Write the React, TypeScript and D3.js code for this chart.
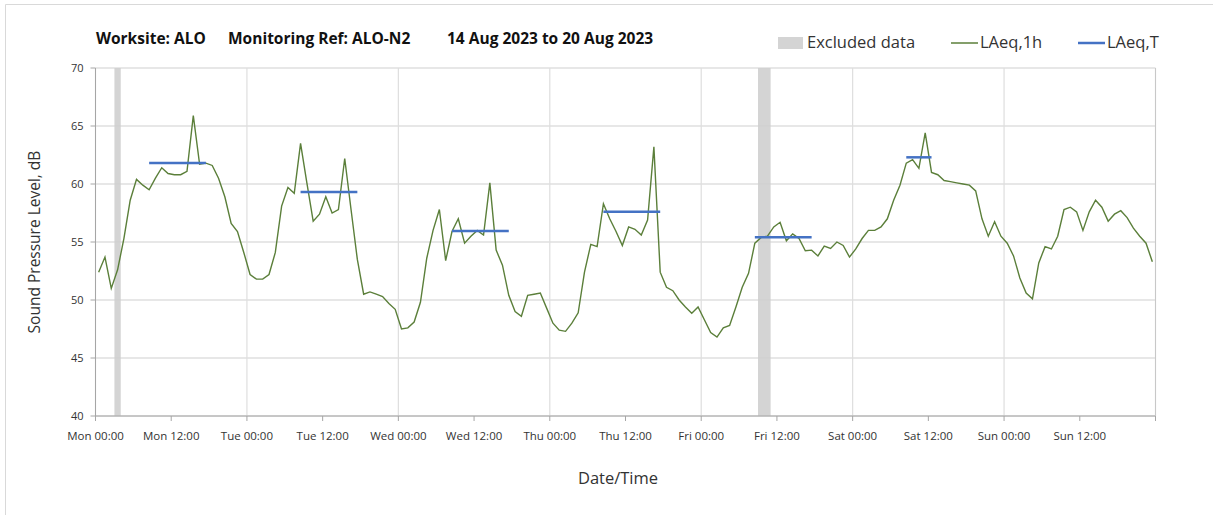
import React from "react";
import * as d3 from "d3";

const titleParts = ["Worksite: ALO", "Monitoring Ref: ALO-N2", "14 Aug 2023  to 20 Aug 2023"];
const dayLabels = ["Mon", "Tue", "Wed", "Thu", "Fri", "Sat", "Sun"];
const yTicks = [40, 45, 50, 55, 60, 65, 70];

// Hourly LAeq,1h values, hour 0 = Mon 00:00
const laeq1h = [
  52.4, 53.7, 51.0, 52.6, 55.3, 58.6, 60.4, 59.9, 59.5, 60.5, 61.4, 60.9, 60.8, 60.8, 61.1, 65.9, 61.7, 61.8, 61.6, 60.5, 58.9, 56.6, 55.9, 54.1,
  52.2, 51.8, 51.8, 52.2, 54.1, 58.1, 59.7, 59.2, 63.5, 60.1, 56.8, 57.4, 58.9, 57.5, 57.8, 62.2, 57.8, 53.5, 50.5, 50.7, 50.5, 50.3, 49.7, 49.2,
  47.5, 47.6, 48.1, 49.8, 53.6, 56.0, 57.8, 53.4, 55.9, 57.0, 54.9, 55.5, 56.0, 55.6, 60.1, 54.3, 53.0, 50.4, 49.0, 48.6, 50.4, 50.5, 50.6, 49.3,
  48.0, 47.4, 47.3, 48.0, 48.9, 52.4, 54.8, 54.6, 58.3, 57.0, 55.9, 54.7, 56.3, 56.1, 55.6, 56.9, 63.2, 52.4, 51.1, 50.8, 50.0, 49.4, 48.85, 49.4,
  48.3, 47.2, 46.8, 47.6, 47.8, 49.4, 51.1, 52.3, 54.9, 55.4, 55.5, 56.3, 56.7, 55.1, 55.7, 55.3, 54.25, 54.3, 53.8, 54.65, 54.45, 55.0, 54.7, 53.7,
  54.4, 55.3, 56.0, 56.0, 56.3, 57.0, 58.6, 59.9, 61.8, 62.1, 61.35, 64.4, 61.0, 60.8, 60.3, 60.2, 60.1, 60.0, 59.9, 59.4, 57.0, 55.5, 56.75, 55.5,
  54.9, 53.8, 51.9, 50.6, 50.1, 53.2, 54.6, 54.4, 55.5, 57.8, 58.0, 57.6, 56.0, 57.6, 58.6, 58.0, 56.8, 57.4, 57.7, 57.1, 56.2, 55.5, 54.9, 53.3,
];

// LAeq,T periods: start hour, end hour, value
const laeqTStart = [8.5, 32.5, 56.5, 80.5, 104.5, 128.5];
const laeqTEnd = [17.5, 41.5, 65.5, 89.5, 113.5, 132.5];
const laeqTValue = [61.8, 59.3, 55.95, 57.6, 55.4, 62.3];

// Excluded data periods (hours)
const excludedStart = [3, 105];
const excludedEnd = [4, 107];

const W = 1213;
const H = 515;
const left = 95.5;
const right = 1155.5;
const top = 68;
const bottom = 416;
const font = "'Open Sans', Lato, sans-serif";

export default function App() {
  const x = d3.scaleLinear().domain([0, 168]).range([left, right]);
  const y = d3.scaleLinear().domain([40, 70]).range([bottom, top]);
  const line = d3
    .line<number>()
    .x((_, i) => x(i + 0.5))
    .y((d) => y(d));
  const ticks12 = d3.range(0, 169, 12);
  const dayTicks = d3.range(0, 169, 24);

  return (
    <svg
      width={W}
      height={H}
      style={{ position: "absolute", left: 0, top: 0, background: "#fff" }}
      fontFamily={font}
    >
      <rect x={0} y={0} width={W} height={H} fill="#fff" />
      {/* outer frame (top + left) */}
      <line x1={5.5} y1={4.5} x2={W} y2={4.5} stroke="#d9d9d9" />
      <line x1={5.5} y1={4.5} x2={5.5} y2={H} stroke="#d9d9d9" />

      {/* excluded periods */}
      {excludedStart.map((s, i) => (
        <rect
          key={"ex" + i}
          x={x(s)}
          y={top}
          width={x(excludedEnd[i]) - x(s)}
          height={bottom - top}
          fill="#d4d4d4"
        />
      ))}

      {/* horizontal gridlines */}
      {yTicks.map((t) => (
        <line key={"hg" + t} x1={left} x2={right} y1={y(t)} y2={y(t)} stroke="#cfcfcf" strokeWidth={1} />
      ))}
      {/* vertical gridlines */}
      {dayTicks.map((t) => (
        <line key={"vg" + t} x1={x(t)} x2={x(t)} y1={top} y2={bottom} stroke="#dedede" strokeWidth={1.2} />
      ))}

      {/* axes */}
      <line x1={left} x2={left} y1={top} y2={bottom} stroke="#a6a6a6" />
      <line x1={left} x2={right} y1={bottom} y2={bottom} stroke="#a6a6a6" />
      <line x1={right} x2={right} y1={top} y2={bottom + 5} stroke="#c8c8c8" />
      {yTicks.map((t) => (
        <g key={"yt" + t}>
          <line x1={left - 5} x2={left} y1={y(t)} y2={y(t)} stroke="#a6a6a6" />
          <text x={left - 12} y={y(t) + 4} textAnchor="end" fontSize={11} fill="#333">
            {t}
          </text>
        </g>
      ))}
      {ticks12.map((t) => (
        <line key={"xt" + t} x1={x(t)} x2={x(t)} y1={bottom} y2={bottom + 5} stroke="#a6a6a6" />
      ))}
      {ticks12.slice(0, 14).map((t) => (
        <text key={"xl" + t} x={x(t)} y={440} textAnchor="middle" fontSize={11.5} fill="#333">
          {dayLabels[Math.floor(t / 24)] + " " + (t % 24 === 0 ? "00:00" : "12:00")}
        </text>
      ))}

      {/* LAeq,1h line */}
      <path d={line(laeq1h) || ""} fill="none" stroke="#5b7f3a" strokeWidth={1.4} />

      {/* LAeq,T */}
      {laeqTValue.map((v, i) => (
        <line
          key={"lt" + i}
          x1={x(laeqTStart[i])}
          x2={x(laeqTEnd[i])}
          y1={y(v)}
          y2={y(v)}
          stroke="#4472c4"
          strokeWidth={2.5}
        />
      ))}

      {/* title */}
      <text y={44} fontSize={15.5} fontWeight="bold" fill="#111">
        <tspan x={96}>{titleParts[0]}</tspan>
        <tspan x={228}>{titleParts[1]}</tspan>
        <tspan x={447}>{titleParts[2]}</tspan>
      </text>

      {/* legend */}
      <rect x={778} y={37} width={25} height={12} fill="#d4d4d4" />
      <text x={807} y={48} fontSize={16.5} fill="#333">Excluded data</text>
      <line x1={951} x2={978} y1={43} y2={43} stroke="#5b7f3a" strokeWidth={1.5} />
      <text x={980} y={48} fontSize={16.5} fill="#333">LAeq,1h</text>
      <line x1={1078} x2={1105} y1={43} y2={43} stroke="#4472c4" strokeWidth={2.5} />
      <text x={1107} y={48} fontSize={16.5} fill="#333">LAeq,T</text>

      {/* axis titles */}
      <text
        transform={`translate(40, ${(top + bottom) / 2}) rotate(-90)`}
        textAnchor="middle"
        fontSize={15.5}
        fill="#333"
      >
        Sound Pressure Level, dB
      </text>
      <text x={618} y={484} textAnchor="middle" fontSize={16.5} fill="#333">
        Date/Time
      </text>
    </svg>
  );
}
